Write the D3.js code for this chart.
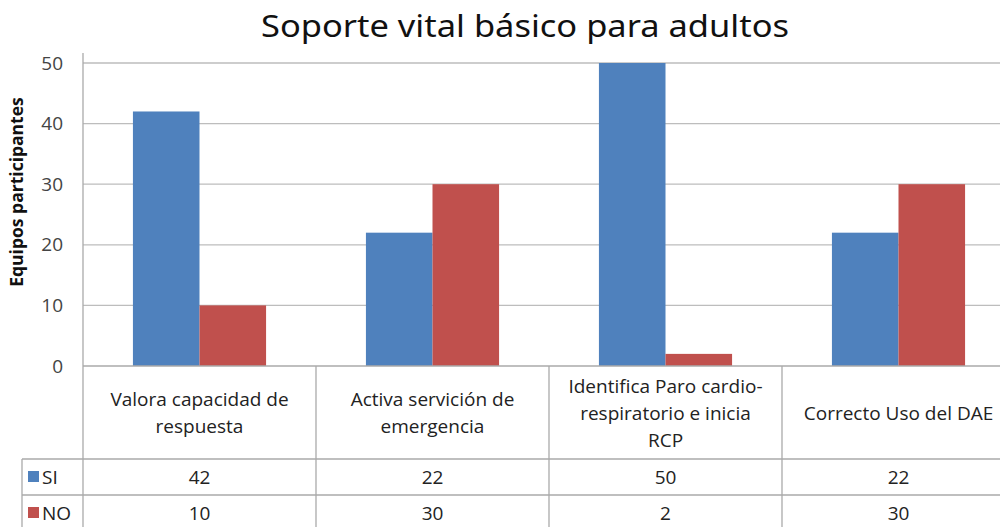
<!DOCTYPE html>
<html>
<head>
<meta charset="utf-8">
<script src="https://cdn.jsdelivr.net/npm/d3@7"></script>
<style>
  body { margin: 0; background: #fff; }
  svg { display: block; }
</style>
</head>
<body>
<div class="demo"></div>
<script>
(function() {
    // data
    var categories = [
        ["Valora capacidad de", "respuesta"],
        ["Activa servición de", "emergencia"],
        ["Identifica Paro cardio-", "respiratorio e inicia", "RCP"],
        ["Correcto Uso del DAE"]
    ];
    var seriesNames = ["SI", "NO"];
    var siValues = [42, 22, 50, 22];
    var noValues = [10, 30, 2, 30];
    var yTicks = [0, 10, 20, 30, 40, 50];
    var colors = ["#4F81BD", "#C0504D"];

    var width = 1000,
        height = 527;

    var left = 83, right = 1015,
        top = 63, bottom = 366;

    var svg = d3.select(".demo").append("svg")
        .attr("width", width)
        .attr("height", height);

    var x = d3.scaleBand()
        .domain(d3.range(categories.length))
        .range([left, right])
        .paddingInner(0)
        .paddingOuter(0);

    var xs = d3.scaleBand()
        .domain(seriesNames)
        .range([0, x.bandwidth()])
        .paddingOuter(0.75)
        .paddingInner(0);

    var y = d3.scaleLinear()
        .domain([0, 50])
        .range([bottom, top]);

    // title
    svg.append("text")
        .attr("x", 525)
        .attr("y", 37)
        .attr("text-anchor", "middle")
        .style("font-family", "'Noto Sans', sans-serif")
        .style("font-size", "31px")
        .attr("textLength", 528)
        .attr("lengthAdjust", "spacingAndGlyphs")
        .attr("fill", "#111")
        .text("Soporte vital básico para adultos");

    // gridlines
    svg.append("g").selectAll("line")
        .data(yTicks.filter(function(d) { return d > 0; }))
        .enter().append("line")
        .attr("x1", left).attr("x2", width)
        .attr("y1", function(d) { return y(d); })
        .attr("y2", function(d) { return y(d); })
        .attr("stroke", "#bdbdbd")
        .attr("stroke-width", 1.3);

    // y axis
    var font = "'Open Sans', sans-serif";
    var yAxis = svg.append("g")
        .attr("transform", "translate(" + left + ",0)")
        .call(d3.axisLeft(y).tickValues(yTicks).tickSize(0).tickPadding(20));
    yAxis.select(".domain").attr("stroke", "#aaa").attr("stroke-width", 1.3)
        .attr("d", "M0," + (top - 10) + "V" + bottom);
    yAxis.selectAll("text")
        .style("font-family", font)
        .style("font-size", "19px")
        .attr("fill", "#444");

    svg.append("text")
        .attr("transform", "translate(23," + 192 + ") rotate(-90)")
        .attr("text-anchor", "middle")
        .style("font-family", font)
        .style("font-size", "17.5px")
        .style("font-weight", "bold")
        .attr("fill", "#111")
        .text("Equipos participantes");

    // bars
    var groups = svg.append("g").selectAll("g")
        .data(categories)
        .enter().append("g")
        .attr("transform", function(d, i) { return "translate(" + x(i) + ",0)"; });

    groups.selectAll("rect")
        .data(function(d, i) { return [siValues[i], noValues[i]]; })
        .enter().append("rect")
        .attr("x", function(d, j) { return xs(seriesNames[j]); })
        .attr("width", xs.bandwidth())
        .attr("y", function(d) { return y(d); })
        .attr("height", function(d) { return y(0) - y(d); })
        .attr("fill", function(d, j) { return colors[j]; });

    // baseline
    svg.append("line")
        .attr("x1", left).attr("x2", width)
        .attr("y1", bottom).attr("y2", bottom)
        .attr("stroke", "#aaa").attr("stroke-width", 1.3);

    // data table
    var rowSI = 459, rowNO = 495, tableLeft = 22;
    var table = svg.append("g")
        .attr("stroke", "#aaa")
        .attr("stroke-width", 1.3);

    d3.range(categories.length + 1).forEach(function(i) {
        var xx = i < categories.length ? x(i) : right;
        table.append("line")
            .attr("x1", xx).attr("x2", xx)
            .attr("y1", bottom).attr("y2", height);
    });
    table.append("line")
        .attr("x1", tableLeft).attr("x2", tableLeft)
        .attr("y1", rowSI).attr("y2", height);
    [rowSI, rowNO].forEach(function(yy) {
        table.append("line")
            .attr("x1", tableLeft).attr("x2", width)
            .attr("y1", yy).attr("y2", yy);
    });

    var lineH = 27;
    var catMid = (bottom + rowSI) / 2;

    groups.each(function(lines, i) {
        var g = d3.select(this);
        var y0 = catMid - (lines.length - 1) * lineH / 2 + 7;
        g.selectAll("text.cat")
            .data(lines)
            .enter().append("text")
            .attr("class", "cat")
            .attr("x", x.bandwidth() / 2)
            .attr("y", function(d, k) { return y0 + k * lineH; })
            .attr("text-anchor", "middle")
            .style("font-family", font)
            .style("font-size", "19px")
            .attr("fill", "#222")
            .text(function(d) { return d; });

        [siValues[i], noValues[i]].forEach(function(v, j) {
            g.append("text")
                .attr("x", x.bandwidth() / 2)
                .attr("y", (j === 0 ? (rowSI + rowNO) / 2 : (rowNO + height + 4) / 2) + 7)
                .attr("text-anchor", "middle")
                .style("font-family", font)
                .style("font-size", "19px")
                .attr("fill", "#222")
                .text(v);
        });
    });

    // legend keys in the table
    seriesNames.forEach(function(name, j) {
        var cy = j === 0 ? (rowSI + rowNO) / 2 : (rowNO + height + 4) / 2;
        svg.append("rect")
            .attr("x", 28).attr("y", cy - 6)
            .attr("width", 11).attr("height", 11)
            .attr("fill", colors[j]);
        svg.append("text")
            .attr("x", 42).attr("y", cy + 7)
            .style("font-family", font)
            .style("font-size", "19px")
            .attr("fill", "#222")
            .text(name);
    });
})();
</script>
</body>
</html>
